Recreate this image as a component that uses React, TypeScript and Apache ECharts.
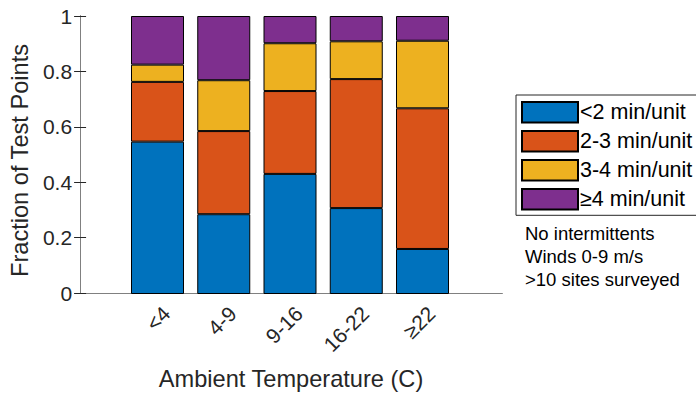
import React, { useEffect, useRef } from "react";
import * as echarts from "echarts";

const categories = ["<4", "4-9", "9-16", "16-22", "≥22"];
const seriesNames = ["<2 min/unit", "2-3 min/unit", "3-4 min/unit", "≥4 min/unit"];
const under2 = [0.548, 0.287, 0.432, 0.309, 0.162];
const from2to3 = [0.215, 0.299, 0.298, 0.464, 0.506];
const from3to4 = [0.062, 0.183, 0.172, 0.136, 0.243];
const over4 = [0.175, 0.231, 0.098, 0.091, 0.089];
const seriesColors = ["#0072BD", "#D95319", "#EDB120", "#7E2F8E"];
const noteLines = ["No intermittents", "Winds 0-9 m/s", ">10 sites surveyed"];
const xAxisTitle = "Ambient Temperature (C)";
const yAxisTitle = "Fraction of Test Points";

const FONT = "'Liberation Sans', Arial, Helvetica, sans-serif";

export default function App() {
  const ref = useRef<HTMLDivElement>(null);
  useEffect(() => {
    if (!ref.current) return;
    const chart = echarts.init(ref.current, undefined, { renderer: "svg" });
    const values = [under2, from2to3, from3to4, over4];
    const W = 696;
    const H = 396;
    const boxL = 78, boxR = 502, boxT = 16, boxB = 294;
    const band = (boxR - boxL) / 6.4;
    const barL = boxL + 0.7 * band;
    const barR = barL + 5 * band;
    const labelShift = 9;
    chart.setOption({
      animation: false,
      textStyle: { fontFamily: FONT },
      grid: [
        { left: boxL, right: W - boxR, top: boxT, bottom: H - boxB },
        { left: barL, right: W - barR, top: boxT, bottom: H - boxB },
        { left: barL + labelShift, right: W - barR - labelShift, top: boxT, bottom: H - boxB },
      ],
      xAxis: [
        {
          gridIndex: 0, type: "value", min: 0, max: 1, position: "bottom",
          axisLine: { show: true, lineStyle: { color: "#262626", width: 1 } },
          axisTick: { show: false }, axisLabel: { show: false }, splitLine: { show: false },
          name: xAxisTitle, nameLocation: "middle", nameGap: 74,
          nameTextStyle: { fontSize: 23.6, color: "#262626", fontFamily: FONT },
        },
        {
          gridIndex: 0, type: "value", min: 0, max: 1, position: "top",
          axisLine: { show: true, lineStyle: { color: "#808080", width: 1 } },
          axisTick: { show: false }, axisLabel: { show: false }, splitLine: { show: false },
        },
        {
          gridIndex: 1, type: "category", data: categories, position: "bottom",
          axisLine: { show: false }, axisTick: { show: false }, splitLine: { show: false },
          axisLabel: { show: false },
        },
        {
          gridIndex: 2, type: "category", data: categories, position: "bottom",
          axisLine: { show: false }, axisTick: { show: false }, splitLine: { show: false },
          axisLabel: { rotate: 45, fontSize: 21, color: "#262626", margin: 16, fontFamily: FONT },
        },
      ],
      yAxis: [
        {
          gridIndex: 0, type: "value", min: 0, max: 1, interval: 0.2, position: "left",
          axisLine: { show: true, lineStyle: { color: "#262626", width: 1 } },
          axisTick: { show: true, inside: true, length: 6, lineStyle: { color: "#262626" } },
          axisLabel: { fontSize: 21, color: "#262626", margin: 8, fontFamily: FONT },
          splitLine: { show: false },
          name: yAxisTitle, nameLocation: "middle", nameGap: 44,
          nameTextStyle: { fontSize: 23.6, color: "#262626", fontFamily: FONT, padding: [0, 12, 0, 0] },
        },
        {
          gridIndex: 0, type: "value", min: 0, max: 1, interval: 0.2, position: "right",
          axisLine: { show: true, lineStyle: { color: "#808080", width: 1 } },
          axisTick: { show: true, inside: true, length: 6, lineStyle: { color: "#262626" } },
          axisLabel: { show: false }, splitLine: { show: false },
        },
        { gridIndex: 1, type: "value", min: 0, max: 1, show: false },
        { gridIndex: 2, type: "value", min: 0, max: 1, show: false },
      ],
      legend: {
        orient: "vertical", left: 516, top: 95,
        itemWidth: 56, itemHeight: 20.5, itemGap: 6.5,
        padding: [6, 14, 4.8, 5],
        borderColor: "#262626", borderWidth: 1, backgroundColor: "#fff",
        icon: "rect",
        textStyle: { fontSize: 21.5, color: "#000", fontFamily: FONT, padding: [0, 0, 0, -3] },
        data: seriesNames,
      },
      series: seriesNames.map((name, i) => ({
        name, type: "bar", stack: "total",
        xAxisIndex: 2, yAxisIndex: 2,
        barWidth: "80%",
        data: values[i],
        itemStyle: { color: seriesColors[i], borderColor: "#000", borderWidth: 1 },
      })),
      graphic: noteLines.map((t, i) => ({
        type: "text", x: 525, y: 233.5 + i * 23,
        style: { text: t, fontSize: 18.5, fontFamily: FONT, fill: "#000", verticalAlign: "middle", align: "left" },
      })),
    });
    return () => chart.dispose();
  }, []);
  return <div ref={ref} style={{ position: "fixed", left: 0, top: 0, width: 696, height: 396, background: "#fff" }} />;
}
